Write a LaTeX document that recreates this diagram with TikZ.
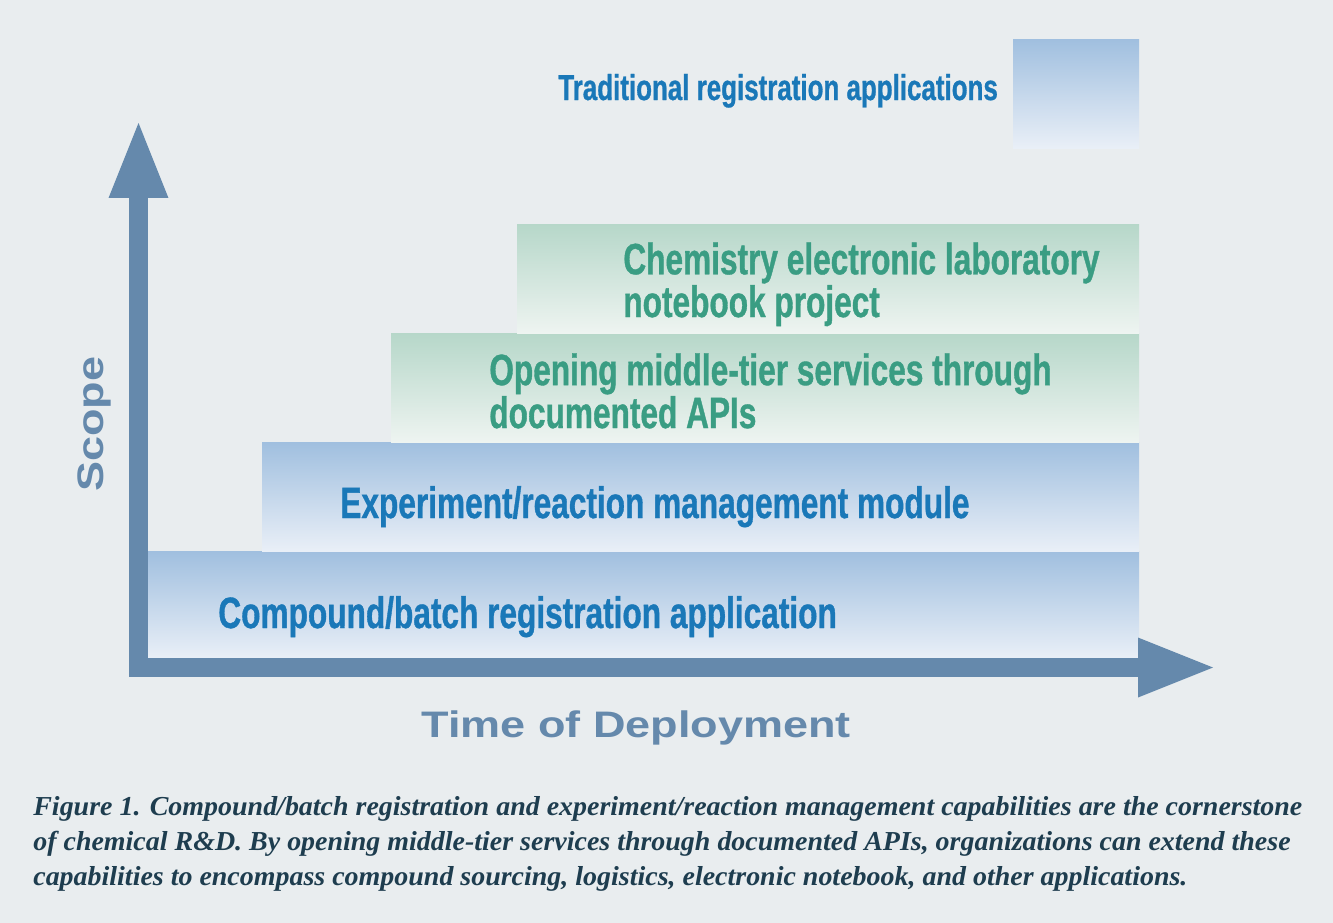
\documentclass[tikz,border=0pt]{standalone}
\usepackage{fontspec}
\usepackage{xcolor}
\usepackage{tikz}
\usetikzlibrary{arrows.meta,positioning}

\newfontfamily\narrowfont{Liberation Sans}[FakeStretch=0.72, FakeBold=0.8]
\newfontfamily\axisfont{Liberation Sans}[FakeStretch=1.22]
\newfontfamily\capfont{Liberation Serif}[FakeStretch=1.02]

\definecolor{bgGrey}{HTML}{E9EDEF}
\definecolor{barBlueTop}{HTML}{A0BFDF}
\definecolor{barBlueBot}{HTML}{E9EFF7}
\definecolor{barGreenTop}{HTML}{B6D7C9}
\definecolor{barGreenBot}{HTML}{EEF4F1}
\definecolor{labelBlue}{HTML}{1A78B8}
\definecolor{labelGreen}{HTML}{3A9D83}
\definecolor{axisBlue}{HTML}{6589AC}
\definecolor{capBlue}{HTML}{1E3D4F}

\begin{document}
\begin{tikzpicture}[
    x=0.02cm, y=-0.02cm,
    bluebar/.style={top color=barBlueTop, bottom color=barBlueBot},
    greenbar/.style={top color=barGreenTop, bottom color=barGreenBot},
    bluelabel/.style={anchor=base west, inner sep=0pt, text=labelBlue, font=\narrowfont\bfseries\fontsize{25}{23.3}\selectfont},
    greenlabel/.style={bluelabel, text=labelGreen, align=left},
    axislabel/.style={anchor=base west, inner sep=0pt, text=axisBlue, font=\axisfont\bfseries\fontsize{21}{25}\selectfont},
    axis/.style={line width=0.38cm, draw=axisBlue,
      {Triangle[width=1.2cm, length=1.5cm, line width=0pt]}-{Triangle[width=1.2cm, length=1.5cm, line width=0pt]}}
  ]
    \path[use as bounding box, fill=bgGrey] (0,0) rectangle (1333,923);

    % Bars
    \shade[bluebar] (148,551) rectangle (1139,658);
    \shade[bluebar] (262,442) rectangle (1139,551);
    \shade[greenbar] (391,333) rectangle (1139,442);
    \shade[greenbar] (517,224) rectangle (1139,333);
    \shade[bluebar] (1013,39) rectangle (1139,148);

    % Axes
    \coordinate (origin) at (138.5,667.5);
    \coordinate (scopetip) at (138.5,123);
    \coordinate (timetip) at (1213,667.5);
    \draw[axis] (scopetip) -- (origin) -- (timetip);

    % Labels (base of a two-line label is its last line)
    \node[bluelabel, font=\narrowfont\bfseries\fontsize{20.5}{24}\selectfont] (trad) at (558,100) {Traditional registration applications};
    \node[greenlabel] (eln) at (623,317) {Chemistry electronic laboratory\\notebook project};
    \node[greenlabel] (api) at (489,428) {Opening middle-tier services through\\documented APIs};
    \node[bluelabel] (erm) at (340,518) {Experiment/reaction management module};
    \node[bluelabel] (reg) at (218,628) {Compound/batch registration application};

    \node[axislabel] (time) at (421,737) {Time of Deployment};
    \node[axislabel, rotate=90] (scope) at (103,492) {Scope};

    % Caption
    \node[anchor=base west, inner sep=0pt, align=left, text=capBlue, font=\capfont\bfseries\itshape\fontsize{15.6}{19.9}\selectfont] (caption) at (33,885)
      {Figure 1. Compound/batch registration and experiment/reaction management capabilities are the cornerstone\\
       of chemical R\&D. By opening middle-tier services through documented APIs, organizations can extend these\\
       capabilities to encompass compound sourcing, logistics, electronic notebook, and other applications.};
  \end{tikzpicture}
\end{document}
